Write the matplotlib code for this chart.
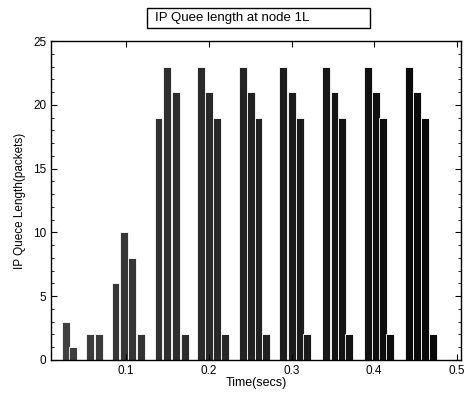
import matplotlib
matplotlib.use("Agg")
import matplotlib.pyplot as plt
from matplotlib.ticker import MultipleLocator
from matplotlib.patches import Rectangle

plt.rcParams['font.family'] = ['Liberation Sans', 'DejaVu Sans']

# bar centres (secs)
times = [0.027, 0.036,
         0.056, 0.067,
         0.087, 0.097, 0.107, 0.118,
         0.139, 0.149, 0.160, 0.171,
         0.190, 0.200, 0.210, 0.219,
         0.241, 0.251, 0.260, 0.269,
         0.290, 0.301, 0.310, 0.319,
         0.342, 0.352, 0.361, 0.369,
         0.392, 0.402, 0.411, 0.419,
         0.442, 0.452, 0.461, 0.471]

# queue length (packets)
queue = [3, 1,
         2, 2,
         6, 10, 8, 2,
         19, 23, 21, 2,
         23, 21, 19, 2,
         23, 21, 19, 2,
         23, 21, 19, 2,
         23, 21, 19, 2,
         23, 21, 19, 2,
         23, 21, 19, 2]

xticks = [0.1, 0.2, 0.3, 0.4, 0.5]
yticks = [0, 5, 10, 15, 20, 25]

fig = plt.figure(figsize=(4.67, 3.93), dpi=100)
ax = fig.add_axes([51 / 467, 1 - 360 / 393, 410 / 467, 319 / 393])

# darker towards the right, like the scanned original
colors = [str(round(max(0.04, 0.26 - 0.5 * t), 3)) for t in times]
ax.bar(times, queue, width=0.0095, color=colors, edgecolor='white', linewidth=0.6)

ax.set_xlim(0.009, 0.505)
ax.set_ylim(0, 25)
ax.set_xticks(xticks)
ax.set_xticklabels([str(v) for v in xticks])
ax.set_yticks(yticks)
ax.yaxis.set_minor_locator(MultipleLocator(1))
ax.tick_params(which='both', direction='in', top=True, right=True, labelsize=8.5)
ax.tick_params(which='major', length=4)
ax.tick_params(which='minor', length=2)
for s in ax.spines.values():
    s.set_linewidth(1.0)
    s.set_zorder(3)

ax.set_xlabel('Time(secs)', fontsize=9, labelpad=0)
ax.set_ylabel('IP Quece Length(packets)', fontsize=8.5, labelpad=5)

# boxed title
fig.patches.append(Rectangle((147 / 467, 1 - 28 / 393), 223 / 467, 20 / 393,
                             transform=fig.transFigure, fill=False,
                             edgecolor='black', linewidth=1.0))
fig.text(155 / 467, 1 - 18 / 393, 'IP Quee length at node 1L',
         fontsize=9.5, va='center', ha='left')

fig.savefig('out.png', dpi=100)
